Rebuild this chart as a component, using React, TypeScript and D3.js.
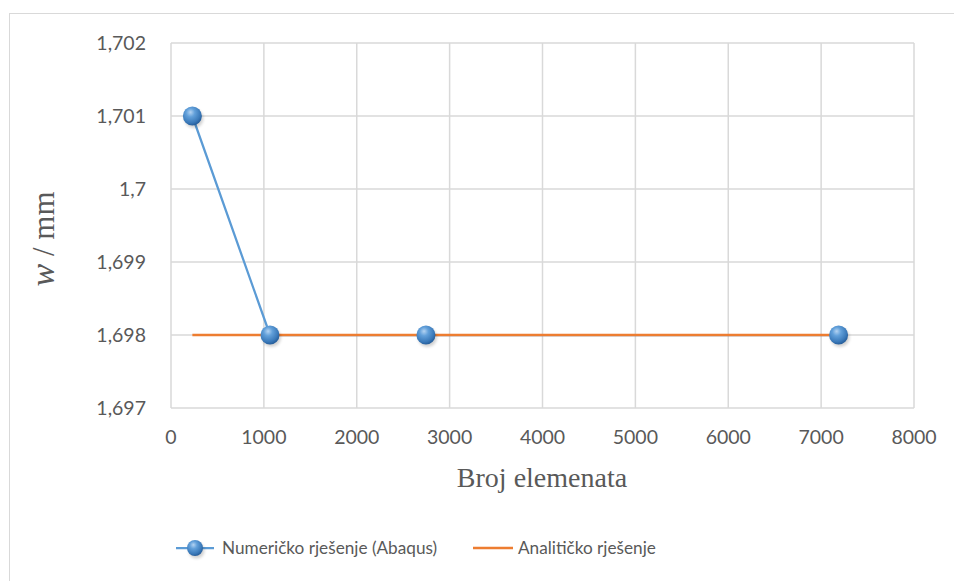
import React from "react";
import * as d3 from "d3";

const elements = [230, 1066, 2745, 7188];
const numericW = [1.701, 1.698, 1.698, 1.698];
const analyticX = [230, 7188];
const analyticW = [1.698, 1.698];
const xTicks = [0, 1000, 2000, 3000, 4000, 5000, 6000, 7000, 8000];
const yTicks = [1.697, 1.698, 1.699, 1.7, 1.701, 1.702];
const yTickLabels = ["1,697", "1,698", "1,699", "1,7", "1,701", "1,702"];
const seriesNames = ["Numeričko rješenje (Abaqus)", "Analitičko rješenje"];

const W = 954;
const H = 581;
const left = 171, right = 914, top = 43, bottom = 408;
const blue = "#5B9BD5";
const orange = "#ED7D31";
const grid = "#d9d9d9";
const textCol = "#595959";
const sans = "Lato, 'Open Sans', sans-serif";
const serif = "'Liberation Serif', 'Times New Roman', serif";

function Marker({ cx, cy, r }: { cx: number; cy: number; r: number }) {
  return (
    <g>
      <circle cx={cx + 1.5} cy={cy + 2.5} r={r} fill="#000" opacity={0.18} filter="url(#blur)" />
      <circle cx={cx} cy={cy} r={r} fill="url(#sphere)" />
    </g>
  );
}

export default function App() {
  const x = d3.scaleLinear().domain([0, 8000]).range([left, right]);
  const y = d3.scaleLinear().domain([1.697, 1.702]).range([bottom, top]);
  const line = d3
    .line<[number, number]>()
    .x((d) => x(d[0]))
    .y((d) => y(d[1]));
  const numPts: [number, number][] = elements.map((e, i) => [e, numericW[i]]);
  const anaPts: [number, number][] = analyticX.map((e, i) => [e, analyticW[i]]);

  return (
    <svg
      width={W}
      height={H}
      style={{ position: "absolute", left: 0, top: 0, background: "#fff" }}
    >
      <defs>
        <radialGradient id="sphere" cx="0.4" cy="0.35" r="0.65" fx="0.4" fy="0.3">
          <stop offset="0" stopColor="#b4d3f2" />
          <stop offset="0.35" stopColor="#62a0da" />
          <stop offset="0.8" stopColor="#3a79b9" />
          <stop offset="1" stopColor="#275f9c" />
        </radialGradient>
        <filter id="blur" x="-50%" y="-50%" width="200%" height="200%">
          <feGaussianBlur stdDeviation="1.5" />
        </filter>
      </defs>
      <rect x={0} y={0} width={W} height={H} fill="#fff" />
      <rect x={9.5} y={13.5} width={980} height={620} fill="none" stroke={grid} strokeWidth={1} />

      {/* gridlines */}
      {xTicks.map((t) => (
        <line key={"gx" + t} x1={x(t)} x2={x(t)} y1={top} y2={bottom} stroke={grid} strokeWidth={1.5} />
      ))}
      {yTicks.map((t) => (
        <line key={"gy" + t} x1={left} x2={right} y1={y(t)} y2={y(t)} stroke={grid} strokeWidth={1.5} />
      ))}

      {/* tick labels */}
      {yTicks.map((t, i) => (
        <text key={"yl" + t} x={146} y={y(t)} dy="0.35em" textAnchor="end" fontFamily={sans} fontSize={19.5} fill={textCol}>
          {yTickLabels[i]}
        </text>
      ))}
      {xTicks.map((t) => (
        <text key={"xl" + t} x={x(t)} y={437} dy="0.35em" textAnchor="middle" fontFamily={sans} fontSize={19.5} fill={textCol}>
          {t}
        </text>
      ))}

      {/* axis titles */}
      <text x={542} y={487} textAnchor="middle" fontFamily={serif} fontSize={28} fill={textCol}>
        Broj elemenata
      </text>
      <text
        transform={`translate(54, 239) rotate(-90)`}
        textAnchor="middle"
        fontFamily={serif}
        fontSize={31}
        fill={textCol}
      >
        <tspan fontStyle="italic" fontSize={34}>w</tspan>
        <tspan> / mm</tspan>
      </text>

      {/* series */}
      <path d={line(numPts) || ""} fill="none" stroke={blue} strokeWidth={2.25} />
      <path d={line(anaPts) || ""} fill="none" stroke={orange} strokeWidth={2.5} />
      {numPts.map((p, i) => (
        <Marker key={"m" + i} cx={x(p[0])} cy={y(p[1])} r={9.5} />
      ))}

      {/* legend */}
      <line x1={176} x2={214} y1={548} y2={548} stroke={blue} strokeWidth={2.25} />
      <Marker cx={195} cy={548} r={8} />
      <text x={222} y={548} dy="0.35em" fontFamily={sans} fontSize={17.2} fill={textCol}>
        {seriesNames[0]}
      </text>
      <line x1={473} x2={513} y1={548} y2={548} stroke={orange} strokeWidth={2.5} />
      <text x={518} y={548} dy="0.35em" fontFamily={sans} fontSize={17.2} fill={textCol}>
        {seriesNames[1]}
      </text>
    </svg>
  );
}
